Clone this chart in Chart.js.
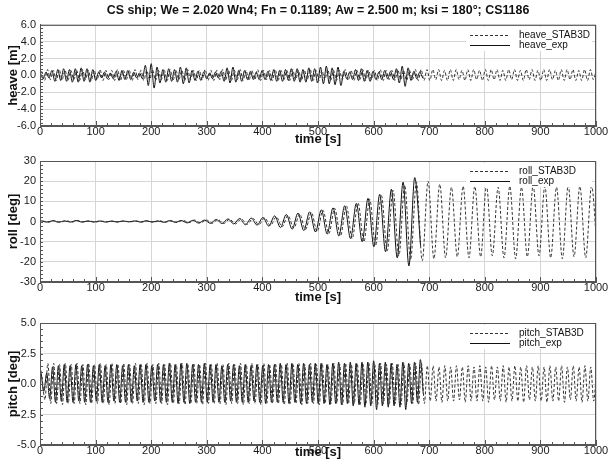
<!DOCTYPE html>
<html>
<head>
<meta charset="utf-8">
<script src="https://cdn.jsdelivr.net/npm/chart.js@4.4.1/dist/chart.umd.min.js"></script>
<style>
body{margin:0;background:#fff;}
.panel{position:absolute;left:0;width:608px;}
</style>
</head>
<body>
<div class="panel" style="top:0"><canvas id="heaveChart" width="608" height="147"></canvas></div>
<div class="panel" style="top:147px"><canvas id="rollChart" width="608" height="158"></canvas></div>
<div class="panel" style="top:305px"><canvas id="pitchChart" width="608" height="155"></canvas></div>
<script>
/* time series are stored as successive extremes (crest, trough, crest ...)
   sampled every half period; start time and step are given per series */

const heaveStep = 5.25;
const heaveSimStart = 3;
const heaveExpStart = 0.5;
const heaveSim = [
0.5,-0.6,0.7,-0.5,0.6,-0.6,0.7,-0.5,0.6,-0.6,
0.6,-0.5,0.6,-0.6,0.7,-0.5,0.6,-0.6,0.6,-0.5,
0.7,-0.6,0.6,-0.5,0.6,-0.6,0.7,-0.6,0.6,-0.5,
0.6,-0.6,0.7,-0.5,0.6,-0.6,0.6,-0.5,0.7,-0.6,
0.6,-0.5,0.6,-0.6,0.7,-0.6,0.6,-0.5,0.6,-0.6,
0.7,-0.5,0.6,-0.6,0.6,-0.5,0.7,-0.6,0.6,-0.6,
0.6,-0.5,0.7,-0.6,0.6,-0.6,0.6,-0.5,0.7,-0.6,
0.6,-0.6,0.6,-0.5,0.7,-0.6,0.6,-0.5,0.6,-0.6,
0.7,-0.6,0.6,-0.5,0.6,-0.6,0.7,-0.5,0.6,-0.6,
0.6,-0.5,0.7,-0.6,0.6,-0.6,0.6,-0.5,0.7,-0.6,
0.6,-0.6,0.6,-0.5,0.7,-0.6,0.6,-0.6,0.6,-0.5,
0.7,-0.6,0.6,-0.5,0.6,-0.6,0.7,-0.6,0.6,-0.5,
0.6,-0.6,0.7,-0.5,0.6,-0.6,0.6,-0.5,0.7,-0.6,
0.7,-0.6,0.7,-0.6,0.7,-0.5,0.7,-0.6,0.6,-0.6,
0.7,-0.6,0.7,-0.5,0.6,-0.6,0.7,-0.6,0.7,-0.5,
0.6,-0.6,0.7,-0.6,0.7,-0.5,0.7,-0.6,0.6,-0.6,
0.7,-0.5,0.7,-0.6,0.6,-0.6,0.7,-0.5,0.7,-0.6,
0.6,-0.6,0.7,-0.6,0.7,-0.5,0.6,-0.6,0.7,-0.6,
0.7,-0.5,0.7,-0.6,0.6,-0.6,0.7,-0.6,0.7,-0.5,
0.7];
const heaveExp = [
0.3,-0.4,0.4,-0.3,
0.6,-0.7,0.7,-0.6,0.8,-0.7,0.7,-0.8,
0.8,-0.8,0.9,-0.7,0.8,-0.8,0.7,-0.6,
0.4,-0.3,0.4,-0.4,0.3,-0.4,
0.5,-0.6,0.6,-0.5,0.6,-0.5,0.4,-0.3,0.3,-0.4,
1.2,-1.2,1.4,-1.5,1.0,-0.9,
0.7,-0.8,0.8,-0.7,0.7,-0.8,
1.0,-1.0,0.9,-0.9,
0.6,-0.6,0.5,-0.6,0.4,-0.4,
0.3,-0.4,0.4,-0.3,0.5,
-0.7,0.9,-0.9,1.0,-0.8,
0.6,-0.7,0.6,-0.5,0.5,
-0.5,0.4,-0.5,0.6,-0.5,0.5,-0.6,
0.7,-0.7,0.6,-0.7,0.7,-0.6,0.8,-0.7,
0.8,-0.8,0.7,-0.8,0.9,-0.7,0.8,
-0.9,1.0,-1.0,1.1,-1.0,0.9,-1.1,1.0,-1.2,
0.5,-0.4,0.4,-0.5,
0.7,-0.6,0.8,-0.7,0.6,-0.7,0.5,
-0.5,0.4,-0.5,0.6,-0.4,0.5,-0.5,
0.8,-0.9,1.1,-1.3,0.9,
-0.6,0.5,-0.4,0.4,-0.3];

const rollStep = 10.5;
const rollSimStart = 5;
const rollExpStart = 2;
const rollSim = [
0.3,-0.4,0.5,-0.3,0.4,-0.3,0.5,-0.3,0.3,-0.3,
0.2,-0.2,0.2,-0.2,0.2,-0.2,0.3,-0.3,0.3,-0.3,
0.4,-0.4,0.5,-0.5,0.6,-0.6,0.7,-0.7,0.8,-0.9,
1.0,-1.0,1.1,-1.2,1.3,-1.4,1.5,-1.6,1.8,-2.0,
2.3,-2.6,3.0,-3.3,3.7,-4.0,4.5,-5.0,5.5,-6.0,
6.5,-7.0,7.8,-8.5,9.2,-10.0,11.0,-12.0,13.0,-14.5,
15.5,-17.0,18.0,-19.0,19.5,-19.5,20.0,-18.5,18.5,-18.0,
17.0,-17.5,17.5,-18.0,17.5,-17.5,18.0,-17.0,17.0,-18.0,
17.5,-18.5,17.0,-17.5,18.0,-17.0,17.5,-18.0,17.0,-18.5,
18.0,-17.5,17.5,-18.0,17.5,-17.0];
const rollExp = [
0.4,-0.3,0.4,-0.4,0.3,-0.3,0.5,-0.3,0.3,-0.3,
0.3,-0.3,0.2,-0.3,0.3,-0.2,0.3,-0.3,0.4,-0.3,
0.3,-0.4,0.4,-0.4,0.5,-0.7,0.6,-0.8,0.7,-0.9,
1.0,-1.0,1.3,-1.2,1.5,-1.6,1.7,-1.8,2.0,-2.3,
2.8,-3.0,3.5,-3.8,4.2,-4.5,4.8,-5.2,5.8,-6.2,
6.8,-7.2,7.8,-8.5,9.0,-10.0,11.5,-12.5,13.5,-15.0,
16.0,-18.0,19.5,-22.0,21.8,-12.0];

const pitchStep = 5.25;
const pitchSimStart = 3.6;
const pitchExpStart = 1.6;
const pitchSim = [
0.6,-1.3,1.7,-1.6,1.7,-1.6,1.6,-1.7,1.7,-1.6,
1.6,-1.6,1.7,-1.6,1.6,-1.7,1.7,-1.6,1.6,-1.6,
1.7,-1.6,1.6,-1.7,1.7,-1.6,1.6,-1.6,1.7,-1.7,
1.6,-1.6,1.7,-1.6,1.6,-1.7,1.7,-1.6,1.6,-1.6,
1.7,-1.6,1.6,-1.7,1.7,-1.6,1.6,-1.6,1.7,-1.7,
1.6,-1.6,1.7,-1.6,1.6,-1.7,1.7,-1.6,1.6,-1.6,
1.7,-1.6,1.6,-1.7,1.7,-1.6,1.6,-1.6,1.7,-1.7,
1.6,-1.6,1.7,-1.6,1.6,-1.7,1.7,-1.6,1.6,-1.6,
1.7,-1.6,1.6,-1.7,1.7,-1.6,1.6,-1.6,1.7,-1.7,
1.6,-1.6,1.7,-1.6,1.6,-1.7,1.7,-1.6,1.6,-1.6,
1.7,-1.6,1.6,-1.7,1.7,-1.6,1.6,-1.6,1.7,-1.7,
1.6,-1.6,1.7,-1.6,1.6,-1.7,1.7,-1.6,1.6,-1.6,
1.7,-1.6,1.6,-1.7,1.7,-1.6,1.6,-1.6,1.7,-1.7,
1.7,-1.6,1.5,-1.4,1.5,-1.4,1.4,-1.5,1.5,-1.4,
1.4,-1.4,1.5,-1.3,1.4,-1.5,1.5,-1.4,1.4,-1.4,
1.5,-1.4,1.4,-1.5,1.5,-1.3,1.4,-1.4,1.5,-1.5,
1.4,-1.4,1.5,-1.4,1.4,-1.5,1.5,-1.3,1.4,-1.4,
1.5,-1.4,1.4,-1.5,1.5,-1.4,1.4,-1.4,1.5,-1.5,
1.4,-1.3,1.5,-1.4,1.4,-1.5,1.5,-1.4,1.4,-1.4,
1.4];
const pitchExp = [
1.1,-0.6,0.9,-1.2,
1.4,-1.5,1.5,-1.4,1.6,-1.5,1.5,-1.5,1.6,-1.4,1.5,-1.5,1.6,-1.5,1.5,-1.4,
1.6,-1.5,1.5,-1.5,1.6,-1.4,1.6,-1.5,1.5,-1.5,1.6,-1.5,1.5,-1.4,1.6,-1.5,1.6,-1.5,1.5,-1.4,
1.6,-1.5,1.6,-1.5,1.7,-1.5,1.6,-1.6,1.7,-1.5,1.7,-1.6,1.6,-1.5,1.6,-1.5,1.7,-1.5,1.6,-1.5,
1.6,-1.5,1.5,-1.5,1.6,-1.4,1.6,-1.5,1.5,-1.5,1.6,-1.5,1.5,-1.4,1.6,-1.5,1.5,-1.6,1.6,-1.5,
1.6,-1.5,1.7,-1.5,1.6,-1.6,1.7,-1.5,1.6,-1.6,1.7,-1.6,1.6,-1.5,1.7,-1.6,1.7,-1.6,1.6,-1.7,
1.7,-1.6,1.8,-1.7,1.7,-1.6,1.8,-1.8,1.7,-1.7,1.8,-1.9,1.8,-1.8,1.9,-2.1,1.7,-1.8,1.8,-1.9,
1.7,-1.8,1.6,-1.9,1.8,-2.1,1.7,-1.6,1.8,-1.5,2.0,-0.8];

const titleText = 'CS ship; We = 2.020 Wn4; Fn = 0.1189; Aw = 2.500 m; ksi = 180°; CS1186';

Chart.defaults.font.family = '"Liberation Sans", Arial, sans-serif';
Chart.defaults.color = '#1a1a1a';

function toPoints(values, start, step) {
  return values.map((v, i) => ({x: start + i * step, y: v}));
}

// short inward minor ticks on the left and bottom axes
function minorTicks(ctx, a, xs, ys, yStep) {
  ctx.beginPath();
  for (let v = 0; v <= 1000; v += 20) {
    const px = Math.round(xs.getPixelForValue(v)) + 0.5;
    ctx.moveTo(px, a.bottom);
    ctx.lineTo(px, a.bottom - (v % 100 === 0 ? 5 : 3));
  }
  const n = 5;
  for (let v = ys.min; v <= ys.max + 1e-9; v += yStep / n) {
    const py = Math.round(ys.getPixelForValue(v)) + 0.5;
    ctx.moveTo(a.left, py);
    ctx.lineTo(a.left + 3, py);
  }
  ctx.stroke();
}

// boxed legend in the upper right corner plus a frame round the plot area
const legendFrame = {
  id: 'legendFrame',
  afterDatasetsDraw(chart) {
    const {ctx, chartArea: a} = chart;
    ctx.save();
    ctx.fillStyle = '#fff';
    ctx.fillRect(a.right - 130, a.top + 2, 126, 24);
    chart.data.datasets.forEach((ds, i) => {
      const y = Math.round(a.top + 10 + i * 10) + 0.5;
      ctx.beginPath();
      ctx.setLineDash(ds.borderDash || []);
      ctx.strokeStyle = ds.borderColor;
      ctx.lineWidth = 1;
      ctx.moveTo(a.right - 126, y);
      ctx.lineTo(a.right - 86, y);
      ctx.stroke();
      ctx.setLineDash([]);
      ctx.fillStyle = '#111';
      ctx.font = '10px "Liberation Sans", Arial, sans-serif';
      ctx.textBaseline = 'middle';
      ctx.fillText(ds.label, a.right - 77, y);
    });
    ctx.strokeStyle = '#555';
    ctx.lineWidth = 1;
    minorTicks(ctx, a, chart.scales.x, chart.scales.y, chart.options.scales.y.ticks.stepSize);
    ctx.strokeRect(a.left + 0.5, a.top + 0.5, a.width - 1, a.height - 1);
    ctx.restore();
  }
};

function makeChart(id, p) {
  const line = {borderColor: '#111', borderWidth: 1, pointRadius: 0, cubicInterpolationMode: 'monotone'};
  return new Chart(document.getElementById(id), {
    type: 'line',
    data: {
      datasets: [
        Object.assign({}, line, {label: p.names[0], data: toPoints(p.sim, p.simStart, p.step), borderDash: [3, 2], borderColor: '#333'}),
        Object.assign({}, line, {label: p.names[1], data: toPoints(p.exp, p.expStart, p.step)})
      ]
    },
    options: {
      responsive: false,
      animation: false,
      devicePixelRatio: 1,
      layout: {padding: {top: p.padTop, right: 12, left: 0, bottom: 0}},
      plugins: {
        legend: {display: false},
        tooltip: {enabled: false},
        title: {
          display: !!p.title,
          text: p.title,
          fullSize: false,
          color: '#111',
          font: {size: 12.4, weight: 'bold'},
          padding: {top: 3, bottom: 7}
        }
      },
      scales: {
        x: {
          type: 'linear',
          min: 0,
          max: 1000,
          afterFit: s => { s.height = p.xHeight; },
          ticks: {stepSize: 100, autoSkip: false, maxRotation: 0, padding: -1, font: {size: 11}, callback: v => String(v)},
          grid: {color: '#d6d6d6', drawTicks: false},
          border: {color: '#555'},
          title: {display: true, text: 'time [s]', font: {size: 13, weight: 'bold'}, color: '#111', padding: 0}
        },
        y: {
          min: p.yMin,
          max: p.yMax,
          afterFit: s => { s.width = 40; },
          ticks: {stepSize: p.yStep, padding: 4, font: {size: 11}, callback: v => v.toFixed(p.digits)},
          grid: {color: '#d6d6d6', drawTicks: false},
          border: {color: '#555'},
          title: {display: true, text: p.yTitle, font: {size: 13, weight: 'bold'}, color: '#111', padding: {top: 6, bottom: 0}}
        }
      }
    },
    plugins: [legendFrame]
  });
}

makeChart('heaveChart', {
  title: titleText, names: ['heave_STAB3D', 'heave_exp'],
  sim: heaveSim, exp: heaveExp, simStart: heaveSimStart, expStart: heaveExpStart, step: heaveStep,
  yMin: -6, yMax: 6, yStep: 2, digits: 1, yTitle: 'heave [m]', padTop: 0, xHeight: 21
});

makeChart('rollChart', {
  names: ['roll_STAB3D', 'roll_exp'],
  sim: rollSim, exp: rollExp, simStart: rollSimStart, expStart: rollExpStart, step: rollStep,
  yMin: -30, yMax: 30, yStep: 10, digits: 0, yTitle: 'roll [deg]', padTop: 14, xHeight: 23
});

makeChart('pitchChart', {
  names: ['pitch_STAB3D', 'pitch_exp'],
  sim: pitchSim, exp: pitchExp, simStart: pitchSimStart, expStart: pitchExpStart, step: pitchStep,
  yMin: -5, yMax: 5, yStep: 2.5, digits: 1, yTitle: 'pitch [deg]', padTop: 18, xHeight: 15
});
</script>
</body>
</html>
